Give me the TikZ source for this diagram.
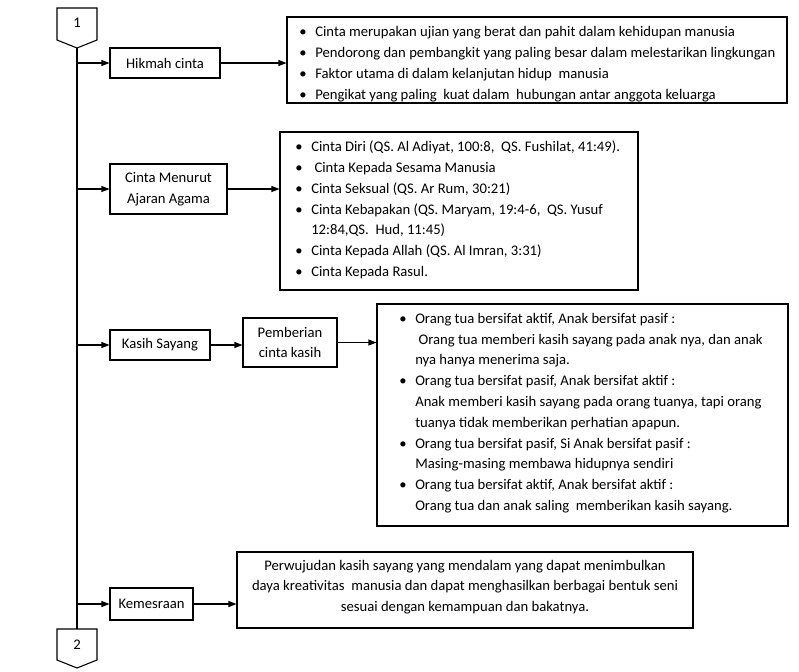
\documentclass[tikz,border=0pt]{standalone}
\usepackage{fontspec}
\setmainfont{Carlito}
\usetikzlibrary{arrows.meta,calc}
\newcommand{\bi}[1]{\makebox[12pt][l]{\textbullet}#1}
\newcommand{\ci}[1]{\hspace*{12pt}#1}
\tikzset{
  lw/.style={line width=0.8pt},
  txt/.style={font=\fontsize{11}{15.6}\selectfont},
  box/.style={draw, lw, rectangle, align=center, inner sep=2pt, txt},
  frame/.style={draw, lw, rectangle, inner sep=0pt},
  listtext/.style={align=left, inner sep=0pt, anchor=west, txt},
  arr/.style={lw, -{Triangle[length=6pt,width=4.5pt]}},
  conn/.style={draw, lw, fill=white},
}
\begin{document}
\begin{tikzpicture}[x=0.75pt,y=-0.75pt]
\useasboundingbox (0,0) rectangle (799,671);
% off-page connectors
\path[conn] (57,8) -- (97,8) -- (97,40) -- (77,48) -- (57,40) -- cycle;
\node[txt] (c1) at (77,23) {1};
\coordinate (c1tip) at (77,48);
\path[conn] (57,629) -- (97,629) -- (97,660) -- (77,668) -- (57,660) -- cycle;
\node[txt] (c2) at (77,645) {2};
\coordinate (c2top) at (77,629);
\draw[lw] (c1tip) -- (c2top);

% first level boxes
\node[box, minimum width=82.5pt, minimum height=22.5pt] (hik) at (165,63) {Hikmah cinta};
\node[box, minimum width=87.75pt, minimum height=37.5pt] (cma) at (168.5,189) {Cinta Menurut\\Ajaran Agama};
\node[box, minimum width=75pt, minimum height=22.5pt] (ks) at (160,345) {Kasih Sayang};
\node[box, minimum width=70.5pt, minimum height=36.75pt] (pem) at (290,342.5) {Pemberian\\cinta kasih};
\node[box, minimum width=62.25pt, minimum height=24pt] (kem) at (151.5,604) {Kemesraan};

% list boxes
\node[frame, minimum width=375pt, minimum height=64.5pt] (L1) at (537,60) {};
\node[listtext] (L1t) at (299,64) {%
\bi{Cinta merupakan ujian yang berat dan pahit dalam kehidupan manusia}\\
\bi{Pendorong dan pembangkit yang paling besar dalam melestarikan lingkungan}\\
\bi{Faktor utama di dalam kelanjutan hidup\ \ manusia}\\
\bi{Pengikat yang paling\ \ kuat dalam\ \ hubungan antar anggota keluarga}};

\node[frame, minimum width=268.5pt, minimum height=118.5pt] (L2) at (459,211) {};
\node[listtext] (L2t) at (295,210) {%
\bi{Cinta Diri (QS. Al Adiyat, 100:8,\ \ QS. Fushilat, 41:49).}\\
\bi{\ Cinta Kepada Sesama Manusia}\\
\bi{Cinta Seksual (QS. Ar Rum, 30:21)}\\
\bi{Cinta Kebapakan (QS. Maryam, 19:4-6,\ \ QS. Yusuf}\\
\ci{12:84,QS.\ \ Hud, 11:45)}\\
\bi{Cinta Kepada Allah (QS. Al Imran, 3:31)}\\
\bi{Cinta Kepada Rasul.}};

\node[frame, minimum width=308.25pt, minimum height=166.5pt] (L3) at (582.5,415) {};
\node[listtext] (L3t) at (399,413) {%
\bi{Orang tua bersifat aktif, Anak bersifat pasif :}\\
\ci{\ Orang tua memberi kasih sayang pada anak nya, dan anak}\\
\ci{nya hanya menerima saja.}\\
\bi{Orang tua bersifat pasif, Anak bersifat aktif :}\\
\ci{Anak memberi kasih sayang pada orang tuanya, tapi orang}\\
\ci{tuanya tidak memberikan perhatian apapun.}\\
\bi{Orang tua bersifat pasif, Si Anak bersifat pasif :}\\
\ci{Masing-masing membawa hidupnya sendiri}\\
\bi{Orang tua bersifat aktif, Anak bersifat aktif :}\\
\ci{Orang tua dan anak saling\ \ memberikan kasih sayang.}};

\node[frame, minimum width=342pt, minimum height=57pt] (L4) at (465,590) {};
\node[txt, align=center, inner sep=0pt] (L4t) at (465,587) {%
Perwujudan kasih sayang yang mendalam yang dapat menimbulkan\\
daya kreativitas\ \ manusia dan dapat menghasilkan berbagai bentuk seni\\
sesuai dengan kemampuan dan bakatnya.};

% connectors
\draw[arr] (c1tip |- hik.west) -- (hik.west);
\draw[arr] (c1tip |- cma.west) -- (cma.west);
\draw[arr] (c1tip |- ks.west) -- (ks.west);
\draw[arr] (c1tip |- kem.west) -- (kem.west);
\draw[arr] (hik.east) -- (hik.east -| L1.west);
\draw[arr] (cma.east) -- (cma.east -| L2.west);
\draw[arr] (ks.east) -- (ks.east -| pem.west);
\draw[arr] (pem.east) -- (pem.east -| L3.west);
\draw[arr] (kem.east) -- (kem.east -| L4.west);
\end{tikzpicture}
\end{document}
